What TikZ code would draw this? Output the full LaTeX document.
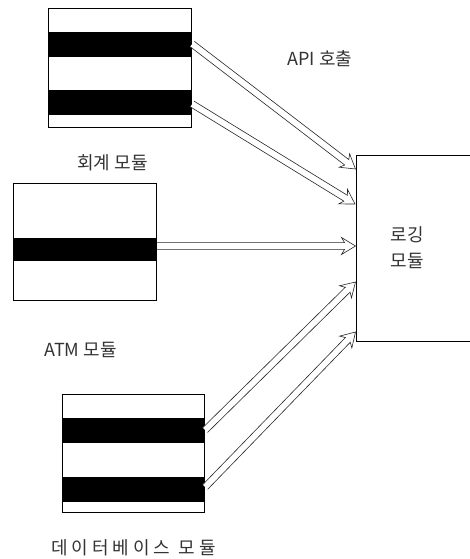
\documentclass[tikz,border=0pt]{standalone}
\usepackage{fontspec}
\newfontfamily\kr{Noto Sans CJK KR}
\usetikzlibrary{calc}
% hollow block arrow from #1 to #2
\newcommand\blkarrow[2]{%
  \draw[flow] ($(#1)!3.4pt!90:(#2)$)
    -- ($($(#2)!11pt!(#1)$)!3.4pt!90:(#2)$)
    -- ($($(#2)!14pt!(#1)$)!8.5pt!90:(#2)$)
    -- (#2)
    -- ($($(#2)!14pt!(#1)$)!8.5pt!-90:(#2)$)
    -- ($($(#2)!11pt!(#1)$)!3.4pt!-90:(#2)$)
    -- ($(#1)!3.4pt!-90:(#2)$);}
\begin{document}
\begin{tikzpicture}[x=1pt,y=-1pt,
  modbox/.style={draw=black, line width=0.7pt, fill=white, anchor=north west, inner sep=0pt},
  band/.style={fill=black, draw=none},
  lbl/.style={font=\kr\fontsize{18}{22}\selectfont, inner sep=0pt, text=black!80},
  flow/.style={draw=black!85, line width=0.6pt, fill=white, line join=miter},
]
\useasboundingbox (0,0) rectangle (470,559);

% accounting module
\node[modbox, minimum width=143pt, minimum height=119pt] (acc) at (48,8) {};
\fill[band] (48,32) rectangle (191,57);
\fill[band] (48,90) rectangle (191,115);
\node[lbl] (accl) at (112.5,163) {회계 모듈};

% ATM module
\node[modbox, minimum width=143pt, minimum height=117pt] (atm) at (13,183) {};
\fill[band] (13,238) rectangle (156,261);
\node[lbl] (atml) at (80.5,350) {ATM 모듈};

% database module
\node[modbox, minimum width=142pt, minimum height=118pt] (db) at (62,394) {};
\fill[band] (62,418) rectangle (204,443);
\fill[band] (62,477) rectangle (204,502);
\node[lbl] (dbl) at (133.5,548) {\addfontfeature{LetterSpace=22}데이터베이스 모듈};

% logging module (right side cut off)
\node[anchor=north west, minimum width=114pt, minimum height=186pt, inner sep=0pt] (log) at (356,155) {};
\draw[line width=0.7pt] (log.north east) -- (log.north west) -- (log.south west) -- (log.south east);
\node[lbl, align=center] (logl) at (407,248) {로깅\\[4pt]모듈};

\node[lbl] (api) at (320,59) {API 호출};

% connectors
\coordinate (a1) at ($(acc.north east)+(0.5,36)$);
\coordinate (a2) at ($(acc.north east)+(0.5,96)$);
\coordinate (t1) at ($(log.north west)+(-0.5,14)$);
\coordinate (t2) at ($(log.north west)+(-1,49)$);
\coordinate (b1) at ($(atm.north east)+(0.5,63)$);
\coordinate (t3) at ($(log.north west)+(-0.5,91)$);
\coordinate (c1) at ($(db.north east)+(0.5,36)$);
\coordinate (c2) at ($(db.north east)+(0.5,93)$);
\coordinate (t4) at ($(log.north west)+(-0.5,127)$);
\coordinate (t5) at ($(log.north west)+(-0.5,177)$);
\blkarrow{a1}{t1}
\blkarrow{a2}{t2}
\blkarrow{b1}{t3}
\blkarrow{c1}{t4}
\blkarrow{c2}{t5}
\end{tikzpicture}
\end{document}
